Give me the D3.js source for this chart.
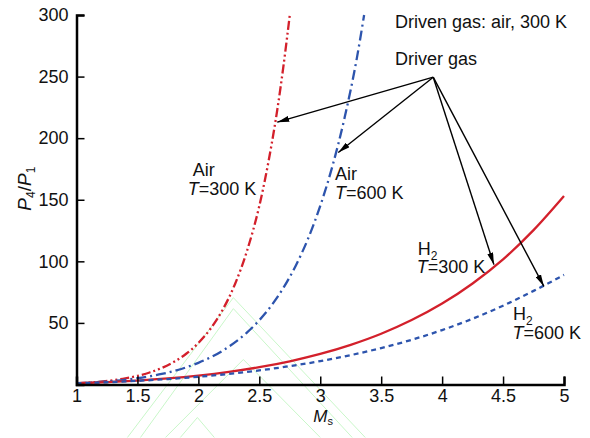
<!DOCTYPE html>
<html>
<head>
<meta charset="utf-8">
<script src="https://cdn.jsdelivr.net/npm/d3@7"></script>
<style>
  html, body { margin: 0; padding: 0; background: #fff; }
  svg { display: block; font-family: "Liberation Sans", Arial, sans-serif; }
</style>
</head>
<body>
<svg id="chart" width="590" height="438"></svg>
<script>
// Shock Mach number Ms against diaphragm pressure ratio P4/P1
// (driven gas: air at 300 K) for four driver gases.

const machAir300  = [1, 1.1, 1.2, 1.3, 1.4, 1.5, 1.6, 1.7, 1.8, 1.9, 2.0, 2.1, 2.2, 2.3, 2.4, 2.5, 2.55, 2.6, 2.65, 2.7, 2.75];
const ratioAir300 = [1, 1.56, 2.35, 3.45, 4.96, 7.0, 9.76, 13.45, 18.39, 24.97, 33.7, 45.3, 60.8, 81.4, 108.8, 145, 168, 194.5, 224.7, 260, 300];

const machAir600  = [1, 1.1, 1.2, 1.3, 1.4, 1.5, 1.6, 1.7, 1.8, 1.9, 2.0, 2.2, 2.4, 2.5, 2.6, 2.7, 2.8, 2.9, 3.0, 3.1, 3.2, 3.3, 3.36];
const ratioAir600 = [1, 1.46, 2.06, 2.84, 3.82, 5.07, 6.63, 8.57, 10.97, 13.93, 17.6, 27.5, 42.3, 52.2, 64.2, 78.8, 96.7, 118.4, 145, 177.3, 216.7, 264.8, 300];

const machH2      = [1, 1.25, 1.5, 1.75, 2, 2.25, 2.5, 2.75, 3, 3.25, 3.5, 3.75, 4, 4.25, 4.5, 4.75, 5];
const ratioH2300  = [1, 1.91, 3.20, 4.95, 7.27, 10.27, 14.08, 18.87, 24.83, 32.2, 41.2, 52.3, 65.7, 82.0, 101.6, 125.3, 153];
const ratioH2600  = [1, 1.83, 2.96, 4.43, 6.29, 8.61, 11.45, 14.88, 18.98, 23.85, 29.6, 36.3, 44.2, 53.4, 64.0, 76.0, 89];

const xTicks = [1, 1.5, 2, 2.5, 3, 3.5, 4, 4.5, 5];
const yTicks = [50, 100, 150, 200, 250, 300];

// Annotation anchors in data units [Ms, P4/P1]
const arrowFrom = [3.927, 249.5];
const arrowTips = [[2.647, 213], [3.148, 188.4], [4.425, 97.3], [4.835, 79.7]];

const svg = d3.select("#chart");
const x = d3.scaleLinear().domain([1, 5]).range([76.5, 564]);
const y = d3.scaleLinear().domain([0, 300]).range([384.5, 15]);

// faint background logo strokes
const logo = [
  [[1.418, -43], [2.287, 70.5], [3.369, -43]],
  [[1.525, -43], [2.287, 61.6], [3.262, -43]],
  [[1.73, -43], [2.369, 20.3], [3.0, -43]],
  [[1.852, -43], [1.992, -26.8], [2.131, -43]]
];
const logoLine = d3.line().x(d => x(d[0])).y(d => y(d[1]));
svg.append("g").selectAll("path").data(logo).join("path")
  .attr("d", logoLine).attr("fill", "none")
  .attr("stroke", "#c9f7c9").attr("stroke-width", 1);

// curves
const series = [
  { m: machAir300, v: ratioAir300, color: "#d3202b", dash: "9,3,2,3,2,3" },
  { m: machAir600, v: ratioAir600, color: "#2d54ad", dash: "10,4,2,4" },
  { m: machH2,     v: ratioH2300,  color: "#d3202b", dash: null },
  { m: machH2,     v: ratioH2600,  color: "#2d54ad", dash: "5,4" }
];
const line = d3.line().curve(d3.curveMonotoneX).x(d => x(d[0])).y(d => y(d[1]));
series.forEach(s => {
  const pts = s.m.map((m, i) => [m, s.v[i]]);
  svg.append("path").datum(pts)
    .attr("d", line).attr("fill", "none")
    .attr("stroke", s.color).attr("stroke-width", 2.3)
    .attr("stroke-dasharray", s.dash);
});

// axes
const gx = svg.append("g").attr("transform", `translate(0,${y(0)})`);
gx.call(d3.axisBottom(x).tickValues(d3.range(11, 50).filter(v => v % 5 !== 0).map(v => v / 10))
  .tickSize(-4.5).tickFormat(""));
gx.call(d3.axisBottom(x).tickValues(xTicks).tickSize(-8).tickPadding(5)
  .tickFormat(d3.format("~g")));
const gy = svg.append("g").attr("transform", `translate(${x(1)},0)`);
gy.call(d3.axisLeft(y).tickValues(d3.range(10, 300, 10).filter(v => v % 50 !== 0))
  .tickSize(-4.5).tickFormat(""));
gy.call(d3.axisLeft(y).tickValues(yTicks).tickSize(-8).tickPadding(8));
svg.selectAll(".domain").attr("stroke", "#000").attr("stroke-width", 2.5);
svg.selectAll(".tick line").attr("stroke", "#000").attr("stroke-width", 1.5);
svg.selectAll(".tick text").attr("font-size", 18).attr("fill", "#111")
  .attr("font-family", "Liberation Sans, Arial, sans-serif");

// axis titles
const xt = svg.append("text").attr("x", x(3.0) - 7).attr("y", 422).attr("font-size", 17).attr("fill", "#111");
xt.append("tspan").attr("font-style", "italic").text("M");
xt.append("tspan").attr("font-size", 11).attr("dy", 3).text("s");

const yt = svg.append("text").attr("transform", `translate(31,${y(159)}) rotate(-90)`)
  .attr("text-anchor", "middle").attr("font-size", 19).attr("fill", "#111");
yt.append("tspan").attr("font-style", "italic").text("P");
yt.append("tspan").attr("font-size", 12).attr("dy", 4).text("4");
yt.append("tspan").attr("dy", -4).text("/");
yt.append("tspan").attr("font-style", "italic").text("P");
yt.append("tspan").attr("font-size", 12).attr("dy", 4).text("1");

// arrows
svg.append("defs").append("marker")
  .attr("id", "head").attr("viewBox", "0 0 12 6")
  .attr("refX", 12).attr("refY", 3)
  .attr("markerWidth", 12).attr("markerHeight", 6)
  .attr("markerUnits", "userSpaceOnUse").attr("orient", "auto")
  .append("path").attr("d", "M0,0 L12,3 L0,6 Z").attr("fill", "#000");
svg.append("g").selectAll("line").data(arrowTips).join("line")
  .attr("x1", x(arrowFrom[0])).attr("y1", y(arrowFrom[1]))
  .attr("x2", d => x(d[0])).attr("y2", d => y(d[1]))
  .attr("stroke", "#000").attr("stroke-width", 1.4)
  .attr("marker-end", "url(#head)");

// text labels
const fs = 18;
function label(ms, val, parts) {
  const t = svg.append("text").attr("x", x(ms)).attr("y", y(val))
    .attr("font-size", fs).attr("fill", "#111");
  parts.forEach(p => {
    const s = t.append("tspan").text(p.t);
    if (p.i) s.attr("font-style", "italic");
    if (p.sub) s.attr("font-size", 12).attr("dy", 5);
  });
  return t;
}
label(3.613, 289.2, [{ t: "Driven gas: air, 300 K" }]);
label(3.613, 259.5, [{ t: "Driver gas" }]);

label(1.953, 168.9, [{ t: "Air" }]);
label(1.913, 154, [{ t: "T", i: true }, { t: "=300 K" }]);
label(3.121, 166.2, [{ t: "Air" }]);
label(3.121, 150.6, [{ t: "T", i: true }, { t: "=600 K" }]);

label(3.801, 105.4, [{ t: "H" }, { t: "2", sub: true }]);
label(3.791, 90.6, [{ t: "T", i: true }, { t: "=300 K" }]);
label(4.581, 52.7, [{ t: "H" }, { t: "2", sub: true }]);
label(4.578, 37, [{ t: "T", i: true }, { t: "=600 K" }]);
</script>
</body>
</html>
